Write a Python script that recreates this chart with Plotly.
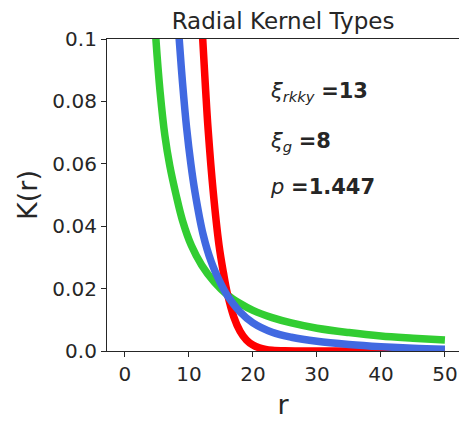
import plotly.graph_objects as go

r_gauss = [11.3, 12.1, 12.6, 13.0, 13.8, 14.7, 15.4, 16.0, 17.0, 18.0, 19.0, 20.0, 21.0, 22.0, 23.0, 25.0, 28.0, 35.0, 50.0]
k_gauss = [0.135, 0.102, 0.084, 0.071, 0.051, 0.034, 0.025, 0.0185, 0.011, 0.0063, 0.0035, 0.0019, 0.001, 0.0005, 0.00025, 0.00006, 0.0, 0.0, 0.0]

r_rkky = [7.8, 8.48, 9.0, 9.64, 10.3, 10.94, 12.2, 13.5, 15.0, 16.0, 18.0, 20.0, 23.0, 26.0, 30.0, 35.0, 40.0, 45.0, 50.0]
k_rkky = [0.121, 0.1, 0.086, 0.0715, 0.06, 0.051, 0.0375, 0.0285, 0.0215, 0.0178, 0.0125, 0.009, 0.006, 0.0044, 0.0031, 0.0021, 0.0014, 0.0009, 0.0006]

r_pow = [4.0, 4.84, 5.5, 6.25, 7.0, 8.0, 9.0, 10.4, 12.0, 14.0, 16.0, 18.0, 20.0, 23.0, 26.0, 30.0, 35.0, 40.0, 45.0, 50.0]
k_pow = [0.13, 0.1, 0.083, 0.069, 0.0595, 0.05, 0.0418, 0.0337, 0.0275, 0.022, 0.018, 0.0152, 0.013, 0.0107, 0.009, 0.0073, 0.0059, 0.0048, 0.0041, 0.0035]

x_ticks = [0, 10, 20, 30, 40, 50]
y_ticks = [0.0, 0.02, 0.04, 0.06, 0.08, 0.1]
y_tick_text = ["0.0", "0.02", "0.04", "0.06", "0.08", "0.1"]

title = "Radial Kernel Types"
labels = ["<i>ξ</i><sub><i>rkky</i></sub> <b>=13</b>",
          "<i>ξ</i><sub><i>g</i></sub> <b>=8</b>",
          "<i>p</i> <b>=1.447</b>"]
label_y = [0.0831, 0.0671, 0.0525]

TXT = "#262626"
FONT = "DejaVu Sans, Liberation Sans, sans-serif"

fig = go.Figure()
fig.add_trace(go.Scatter(x=r_pow, y=k_pow, mode="lines", line=dict(color="#32cd32", width=7.5, shape="spline"), showlegend=False))
fig.add_trace(go.Scatter(x=r_gauss, y=k_gauss, mode="lines", line=dict(color="#ff0000", width=7.5, shape="spline"), showlegend=False))
fig.add_trace(go.Scatter(x=r_rkky, y=k_rkky, mode="lines", line=dict(color="#4169e1", width=7.5, shape="spline"), showlegend=False))

for t, yv in zip(labels, label_y):
    fig.add_annotation(x=22.3, y=yv, xref="x", yref="y", text=t, showarrow=False,
                       xanchor="left", yanchor="middle",
                       font=dict(family=FONT, size=21, color=TXT))

fig.update_layout(
    width=459, height=425,
    margin=dict(l=107, r=0, t=39, b=74),
    paper_bgcolor="white", plot_bgcolor="white",
    font=dict(family=FONT, color=TXT),
    title=dict(text=title, x=(107 + 459) / 2 / 459, xanchor="center", y=1 - 21 / 425, yanchor="middle",
               font=dict(family=FONT, size=23, color=TXT)),
)
fig.update_xaxes(range=[-2.8, 52.2], tickvals=x_ticks, ticks="outside", ticklen=5, tickwidth=1.2,
                 tickcolor=TXT, showgrid=False, zeroline=False, showline=True, linecolor=TXT, linewidth=1.2,
                 mirror=True, tickfont=dict(family=FONT, size=20, color=TXT),
                 title=dict(text="r", font=dict(family=FONT, size=27, color=TXT), standoff=10))
fig.update_yaxes(range=[0, 0.1], tickvals=y_ticks, ticktext=y_tick_text, ticks="outside", ticklen=5, tickwidth=1.2,
                 tickcolor=TXT, showgrid=False, zeroline=False, showline=True, linecolor=TXT, linewidth=1.2,
                 mirror=False, tickfont=dict(family=FONT, size=20, color=TXT),
                 title=dict(text="K(r)", font=dict(family=FONT, size=27, color=TXT), standoff=6))

fig.write_html("out.html")
